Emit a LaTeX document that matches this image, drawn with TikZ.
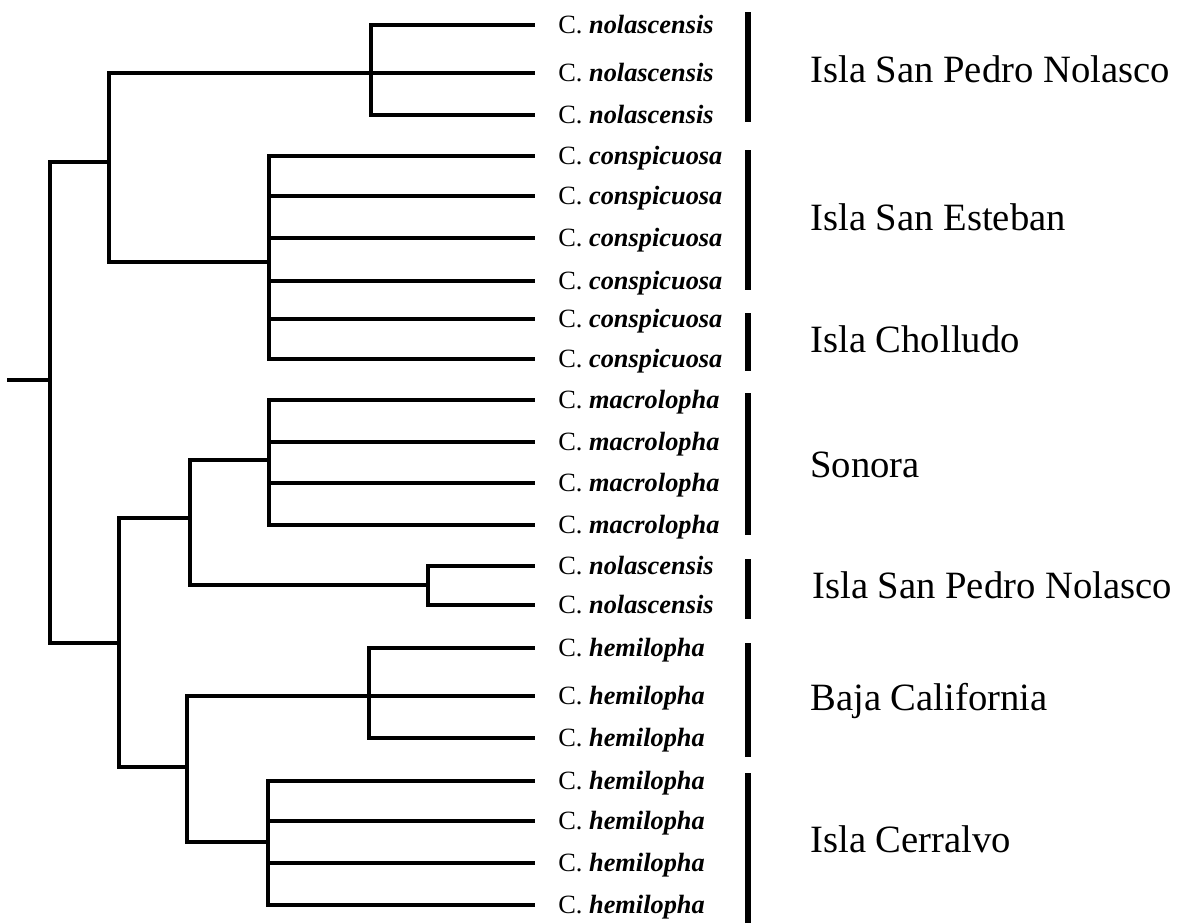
\documentclass[tikz,border=0pt]{standalone}
\usepackage{fontspec}
\setmainfont{Liberation Serif}
\begin{document}
\begin{tikzpicture}[x=0.02cm, y=-0.02cm,
  branch/.style={line width=2.8pt, line cap=rect},
  bracket/.style={line width=3.9pt},
  taxon/.style={anchor=base west, inner sep=0pt, font=\fontsize{15}{17}\selectfont},
  place/.style={anchor=base west, inner sep=0pt, font=\fontsize{22}{26}\selectfont}]

\useasboundingbox (0,0) rectangle (1180,923);

\coordinate (base) at (9,380);
\coordinate (root) at (50,380);
\coordinate (upper) at (109,162);
\coordinate (lower) at (119,643);
\coordinate (nolA) at (371,73);
\coordinate (consp) at (269,262);
\coordinate (mid) at (190,518);
\coordinate (macro) at (269,460);
\coordinate (nolB) at (428,585);
\coordinate (south) at (187,767);
\coordinate (baja) at (369,696);
\coordinate (cerr) at (268,842);

\foreach \i/\y/\sp in {1/25/nolascensis, 2/73/nolascensis, 3/115/nolascensis,
  4/156/conspicuosa, 5/196/conspicuosa, 6/238/conspicuosa, 7/281/conspicuosa,
  8/319/conspicuosa, 9/359/conspicuosa,
  10/400/macrolopha, 11/442/macrolopha, 12/483/macrolopha, 13/525/macrolopha,
  14/566/nolascensis, 15/605/nolascensis,
  16/648/hemilopha, 17/696/hemilopha, 18/738/hemilopha,
  19/781/hemilopha, 20/821/hemilopha, 21/863/hemilopha, 22/905/hemilopha}{
  \coordinate (leaf\i) at (533,\y);
  \node [taxon] (name\i) at (558,\y+8) {C. {\bfseries\itshape\sp}};
}

\draw [branch] (base) -- (root);
\draw [branch] (root) |- (upper);
\draw [branch] (root) |- (lower);
\draw [branch] (upper) |- (nolA);
\draw [branch] (upper) |- (consp);
\draw [branch] (lower) |- (mid);
\draw [branch] (lower) |- (south);
\draw [branch] (mid) |- (macro);
\draw [branch] (mid) |- (nolB);
\draw [branch] (south) |- (baja);
\draw [branch] (south) |- (cerr);

\foreach \i in {1,2,3} \draw [branch] (nolA) |- (leaf\i);
\foreach \i in {4,...,9} \draw [branch] (consp) |- (leaf\i);
\foreach \i in {10,...,13} \draw [branch] (macro) |- (leaf\i);
\foreach \i in {14,15} \draw [branch] (nolB) |- (leaf\i);
\foreach \i in {16,17,18} \draw [branch] (baja) |- (leaf\i);
\foreach \i in {19,...,22} \draw [branch] (cerr) |- (leaf\i);

\draw [bracket] (748,12) -- (748,122);
\draw [bracket] (748,150) -- (748,290);
\draw [bracket] (748,313) -- (748,371);
\draw [bracket] (748,393) -- (748,535);
\draw [bracket] (748,559) -- (748,619);
\draw [bracket] (748,643) -- (748,757);
\draw [bracket] (748,773) -- (748,923);

\node [place] (isle1) at (810,82) {Isla San Pedro Nolasco};
\node [place] (isle2) at (810,230) {Isla San Esteban};
\node [place] (isle3) at (810,352) {Isla Cholludo};
\node [place] (isle4) at (810,477) {Sonora};
\node [place] (isle5) at (812,598) {Isla San Pedro Nolasco};
\node [place] (isle6) at (810,710) {Baja California};
\node [place] (isle7) at (810,852) {Isla Cerralvo};

\end{tikzpicture}
\end{document}
